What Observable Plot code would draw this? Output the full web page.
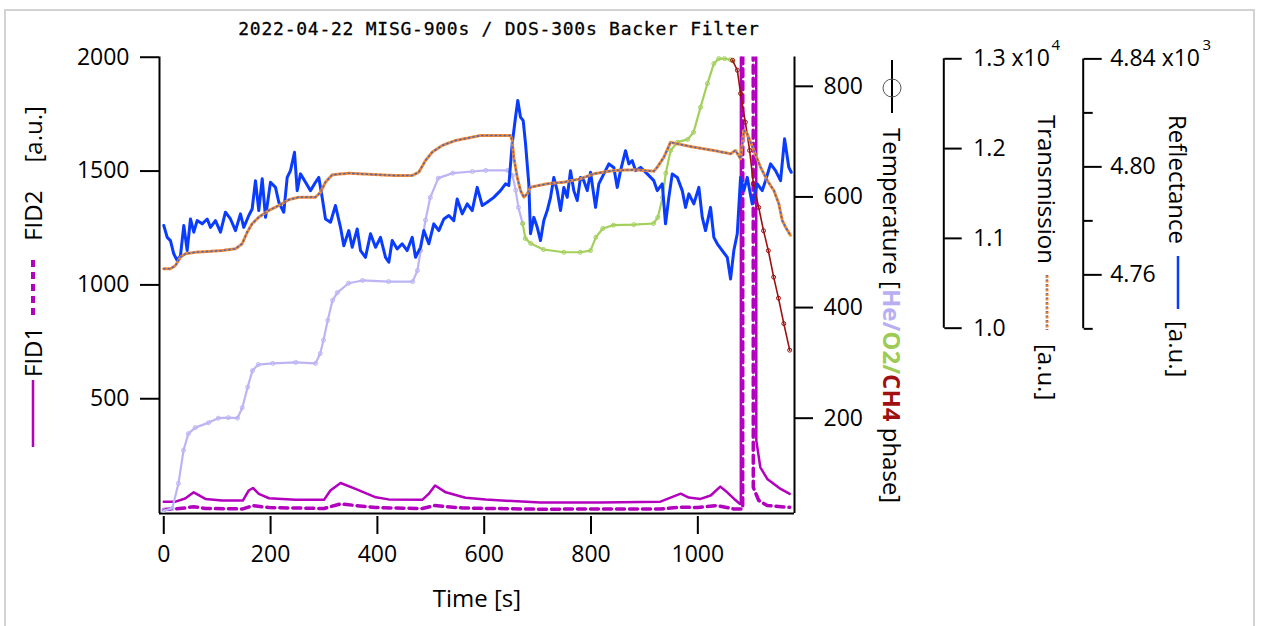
<!DOCTYPE html>
<html>
<head>
<meta charset="utf-8">
<script src="https://cdn.jsdelivr.net/npm/d3@7"></script>
<script src="https://cdn.jsdelivr.net/npm/@observablehq/plot@0.6"></script>
<style>
  html, body { margin:0; padding:0; background:#fff; }
  #chart { position:relative; width:1263px; height:626px; overflow:hidden; font-family:"Open Sans", sans-serif; color:#000; }
  #border { position:absolute; left:4px; top:9px; width:1251px; height:660px; border:2px solid #d3d3d3; box-sizing:border-box; }
  .layer { position:absolute; left:0; top:0; }
  .title { position:absolute; top:18px; left:0; width:998px; text-align:center; font-family:"DejaVu Sans Mono", monospace; font-size:18px; line-height:22px; letter-spacing:0.75px; color:#000; -webkit-text-stroke:0.3px #000; }
  .xlabel { position:absolute; top:583px; left:377px; width:200px; text-align:center; font-size:24px; line-height:30px; }
  .vlab { position:absolute; white-space:nowrap; font-size:24px; line-height:30px; height:30px; transform-origin:0 0; display:flex; align-items:center; }
  .vlab svg { display:block; flex:none; }
</style>
</head>
<body>
<div id="chart">
  <div id="border"></div>
  <div class="title">2022-04-22 MISG-900s / DOS-300s Backer Filter</div>
  <div class="xlabel">Time [s]</div>
  <div class="vlab" style="left:33px;top:447px;transform:rotate(-90deg) translateY(-50%);">
    <svg width="67" height="10"><line x1="0" y1="5" x2="67" y2="5" stroke="#b300bf" stroke-width="2.5"/></svg>
    <span style="margin-left:3px">FID1</span>
    <svg style="margin-left:12px" width="55" height="10"><line x1="0" y1="5" x2="55" y2="5" stroke="#b300bf" stroke-width="4" stroke-dasharray="7,5"/></svg>
    <span style="margin-left:19px">FID2</span>
    <span style="margin-left:28px">[a.u.]</span>
  </div>
  <div class="vlab" style="left:892px;top:60px;transform:rotate(90deg) translateY(-50%);">
    <svg width="53" height="22"><line x1="0" y1="11" x2="53" y2="11" stroke="#000" stroke-width="2"/><circle cx="28" cy="11" r="9" fill="none" stroke="#555" stroke-width="1"/></svg>
    <span style="margin-left:15px">Temperature [<b style="color:#b7aff2">He/</b><b style="color:#9dcb55">O2/</b><b style="color:#a01010">CH4</b> phase]</span>
  </div>
  <div class="vlab" style="left:1047px;top:115px;transform:rotate(90deg) translateY(-50%);">
    <span>Transmission</span>
    <svg style="margin-left:11px" width="55" height="10"><line x1="0" y1="5" x2="55" y2="5" stroke="#f08a36" stroke-width="3" stroke-dasharray="3,1.5"/><line x1="0" y1="5" x2="55" y2="5" stroke="#5468b0" stroke-width="1.6" stroke-dasharray="1.2,3.3"/></svg>
    <span style="margin-left:14px">[a.u.]</span>
  </div>
  <div class="vlab" style="left:1178px;top:115px;transform:rotate(90deg) translateY(-50%);">
    <span>Reflectance</span>
    <svg style="margin-left:12px" width="53" height="10"><line x1="0" y1="5" x2="53" y2="5" stroke="#0a3cff" stroke-width="2.5"/></svg>
    <span style="margin-left:12px">[a.u.]</span>
  </div>
</div>
<script>
const W = 1263, H = 626;

// ---- scale domains & ticks ----
const xDomain = [-8, 1181];
const fidDomain = [-4, 2001];
const tempDomain = [27.7, 853];
const transDomain = [7936, 13020];
const reflDomain = [4671.6, 4840.7];

const timeTicks = [0, 200, 400, 600, 800, 1000];
const fidTicks = [500, 1000, 1500, 2000];
const tempTicks = [200, 400, 600, 800];
const transTicks = [10000, 11000, 12000, 13000];
const transAxisSpan = [10000, 13000];
const reflMajor = [4760, 4800, 4840];
const reflMinor = [4740, 4780, 4820];
const reflAxisSpan = [4740, 4840];

// ---- data ----
const fid1Time = [0,22,40,56,78,109,148,159,167,178,197,247,300,312,331,359,397,421,484,496,508,528,565,603,705,818,930,968,983,1005,1024,1042,1055,1068,1079,1080.5,1081,1109,1109.5,1117,1130,1155,1172];
const fid1Val  = [48,48,62,89,60,53,53,97,108,82,63,56,56,97,130,104,67,58,56,82,119,89,65,57,44,44,48,83,66,60,75,114,89,60,38,38,6000,6000,316,199,148,104,82];

const fid2Time = [0,22,40,56,78,148,167,197,300,331,397,484,507,560,700,930,968,1000,1036,1067,1084,1084.6,1103.4,1103.8,1114,1130,1172];
const fid2Val  = [14,16,20,26,18,16,31,22,18,38,22,18,31,20,15,16,24,22,31,16,16,6000,6000,111,53,31,23];

const heTime = [0,16,27.5,37,46,59,84,102,121,138,147,157,166,177,204,247,284,293,299,307,316,325,346,372,421,466,475,481,490,499,514,541,578,603,644,653,659,664,672];
const heTemp = [33,37,82,142,172,183,192,200,201,200,219,256,286,297,299,301,299,317,341,377,413,427,444,449,447,447,467,503,558,599,634,643,646,648,648,639,612,581,552];

const o2Time = [672,677,687,711,749,780,799,809,822,842,880,917,925,934,940,949,962,981,992,1005,1018,1030,1039,1050,1061,1066];
const o2Temp = [552,525,516,505,500,500,503,527,543,549,550,552,563,599,643,684,699,704,717,762,805,841,850,850,848,846];

const ch4Time = [1065,1074,1080,1089,1097,1104,1114,1123,1132,1142,1151,1161,1172];
const ch4Temp = [847,829,787,735,684,624,581,539,503,455,417,371,323];

const transTime = [0,12.5,21.9,31.3,40.6,59.4,84.3,109.4,134.3,146.8,156.2,165.5,177.9,196.6,215.4,234.1,252.8,284.1,293.5,302.8,315.4,346.5,390.3,433.9,465.2,477.5,490.1,502.6,521.4,546.3,593.1,649.3,652.4,655.4,661.8,668,674.2,680.5,686.7,718,749.1,780.3,805.3,842.7,880.2,917.6,924,936.4,948.9,961.5,992.5,1030,1061.3,1070.6,1080,1086.2,1092.5,1104.9,1117.4,1130,1142.4,1151.7,1158.1,1164.3,1173.6];
const transVal  = [10661,10661,10698,10791,10828,10846,10854,10865,10884,10940,11069,11163,11236,11311,11366,11430,11459,11459,11514,11626,11708,11726,11712,11700,11700,11737,11867,11960,12035,12090,12146,12146,12090,11904,11682,11533,11459,11497,11570,11608,11626,11664,11719,11756,11764,11748,11793,11904,12071,12053,12016,11979,11942,11979,11886,12202,12165,11979,11793,11645,11533,11385,11199,11125,11032];

const reflTime = [0,6.4,12.5,18.7,25.1,31.3,37.5,43.8,50,56.2,62.5,71.9,81.3,87.5,96.8,106.2,115.5,124.9,134.3,143.6,149.8,159.2,165.5,171.7,177.9,184.3,190.5,199.8,209.2,215.4,224.7,231.1,237.3,244.8,249.8,256,265.4,274.7,284.1,290.3,296.6,302.8,312.2,321.5,330.9,337.1,346.5,352.8,362.2,368.4,377.7,387.1,396.5,405.8,415.2,421.4,427.7,437.1,446.4,455.8,465.2,471.4,480.7,486.9,496.3,505.6,515,524.4,533.7,543.1,549.4,558.8,568.2,577.5,586.9,596.3,605.6,618,630.5,639.9,646.1,652.4,658.6,662.9,668,673,677.4,683.5,686.7,692.9,699.3,705.4,711.6,718,724.2,730.3,736.7,742.9,749.1,755.4,761.6,767.8,774.2,780.3,786.5,792.9,799.1,808.5,814.6,824,833.4,842.7,849.1,855.3,864.6,870.8,877.2,883.4,892.7,905.3,917.6,924,933.4,939.5,945.7,952.1,961.5,970.8,977,983.2,992.5,1001.9,1008.3,1014.4,1023.8,1030,1036.4,1045.7,1055.1,1061.3,1067.4,1073.8,1080,1086.2,1092.5,1101.9,1111.2,1120.6,1126.8,1136.2,1145.5,1154.9,1162.4,1170.4,1174.9];
const reflVal  = [4778.3,4773.9,4772.7,4767.8,4765.3,4767.1,4778.3,4769,4780.7,4775.8,4780.1,4778.9,4780.7,4777.6,4780.1,4775.8,4783.2,4780.7,4776.4,4782.6,4777.6,4782,4784.4,4794.9,4783.8,4795.6,4781.3,4794.3,4792.4,4786.9,4783.2,4796.1,4798.6,4805.4,4791.2,4797.4,4794.3,4791.2,4794.3,4796.1,4788.7,4780.7,4779.5,4785.7,4777.6,4770.8,4776.4,4770.2,4777,4769,4766.5,4775.2,4770.2,4773.9,4766.5,4764.7,4772.7,4769.6,4771.5,4769,4773.9,4766.5,4770.2,4776.4,4771.5,4778.9,4776.4,4780.7,4782,4780.1,4788.1,4782.6,4786.3,4783.8,4792.4,4785.7,4786.9,4788.7,4791.2,4793.7,4793.1,4808.5,4818.4,4824.6,4818.4,4817.1,4808.5,4793.7,4775.2,4781.3,4777.6,4772.7,4780.1,4783.8,4788.7,4796.1,4791.2,4783.8,4792.4,4788.7,4798.6,4791.2,4787.5,4796.1,4794.9,4791.2,4798,4785,4793.7,4797.4,4801.1,4799.8,4792.4,4798.6,4806,4801.1,4802.3,4798.6,4799.8,4797.4,4794.9,4791.2,4793.7,4778.9,4788.7,4797.4,4796.1,4791.2,4785,4790,4786.3,4792.4,4781.3,4776.4,4785,4773.9,4771.5,4769,4766.5,4758.5,4769,4775.2,4796.1,4791.2,4796.1,4786.3,4793.7,4791.2,4794.9,4801.1,4798.6,4794.9,4810.4,4799.8,4798];

// ---- colours ----
const cFID = "#b300bf", cHe = "#bcb4f4", cO2 = "#a2d05a", cCH4 = "#9c1010";
const cRefl = "#0a3cff", cTransA = "#f08a36", cTransB = "#5468b0";

const rows = (ts, vs) => ts.map((t, i) => ({t, v: vs[i]}));
const fid1 = rows(fid1Time, fid1Val), fid2 = rows(fid2Time, fid2Val);
const he = rows(heTime, heTemp), o2 = rows(o2Time, o2Temp), ch4 = rows(ch4Time, ch4Temp);
const trans = rows(transTime, transVal), refl = rows(reflTime, reflVal);

const TF = 23; // tick label font size
const base = {
  width: W, height: H,
  marginTop: 56.5, marginBottom: H - 513, marginLeft: 159, marginRight: W - 794,
  style: {background: "transparent", fontFamily: "Open Sans", fontSize: TF + "px", color: "#000", overflow: "visible"}
};
const chart = document.getElementById("chart");
function layer(opts) {
  const svg = Plot.plot({...base, ...opts});
  svg.classList.add("layer");
  chart.appendChild(svg);
}
const plain = d => String(d);

// FID layer with frame and x axis
layer({
  x: {domain: xDomain},
  y: {domain: fidDomain},
  marks: [
    Plot.line(fid2, {x: "t", y: "v", stroke: cFID, strokeWidth: 3.5, strokeDasharray: "8,5", clip: true}),
    Plot.line(fid1, {x: "t", y: "v", stroke: cFID, strokeWidth: 2.5, clip: true}),
    Plot.ruleX([xDomain[0]], {stroke: "#000", strokeWidth: 2}),
    Plot.ruleY([fidDomain[0]], {stroke: "#000", strokeWidth: 2}),
    Plot.axisX(timeTicks, {tickSize: 18, tickPadding: 11, strokeWidth: 2, dy: 3, label: null, fontSize: TF, tickFormat: plain}),
    Plot.axisY(fidTicks, {anchor: "left", tickSize: 19, tickPadding: 11, strokeWidth: 2, label: null, fontSize: TF, tickFormat: plain})
  ]
});

// Temperature layer
layer({
  x: {domain: xDomain, axis: null},
  y: {domain: tempDomain},
  marks: [
    Plot.line(he, {x: "t", y: "v", stroke: cHe, strokeWidth: 2.2}),
    Plot.dot(he, {x: "t", y: "v", stroke: cHe, r: 2, strokeWidth: 1}),
    Plot.line(o2, {x: "t", y: "v", stroke: cO2, strokeWidth: 2.2}),
    Plot.dot(o2, {x: "t", y: "v", stroke: cO2, r: 2, strokeWidth: 1}),
    Plot.line(ch4, {x: "t", y: "v", stroke: cCH4, strokeWidth: 1.6}),
    Plot.dot(ch4, {x: "t", y: "v", stroke: cCH4, r: 2, strokeWidth: 1}),
    Plot.ruleX([xDomain[1]], {stroke: "#000", strokeWidth: 2}),
    Plot.axisY(tempTicks, {anchor: "right", tickSize: 18, tickPadding: 11, strokeWidth: 2, label: null, fontSize: TF, tickFormat: plain})
  ]
});

// Reflectance layer
const reflDx = 288.7;
layer({
  x: {domain: xDomain, axis: null},
  y: {domain: reflDomain},
  marks: [
    Plot.line(refl, {x: "t", y: "v", stroke: cRefl, strokeWidth: 3}),
    Plot.ruleX([{x: xDomain[1], y1: reflAxisSpan[0], y2: reflAxisSpan[1]}], {x: "x", y1: "y1", y2: "y2", dx: reflDx, stroke: "#000", strokeWidth: 2}),
    Plot.axisY(reflMajor, {anchor: "right", dx: reflDx, tickSize: 18, tickPadding: 9, strokeWidth: 2, label: null, fontSize: TF,
      tickFormat: d => d === 4840 ? "4.84 x10" : (d / 1000).toFixed(2)}),
    Plot.axisY(reflMinor, {anchor: "right", dx: reflDx, tickSize: 9, strokeWidth: 2, label: null, tickFormat: () => ""}),
    Plot.text([{v: 4840, s: "3"}], {y: "v", text: "s", frameAnchor: "right", dx: 408, dy: -14, fontSize: 15, textAnchor: "start"})
  ]
});

// Transmission layer
const transDx = 149.3;
layer({
  x: {domain: xDomain, axis: null},
  y: {domain: transDomain},
  marks: [
    Plot.line(trans, {x: "t", y: "v", stroke: cTransA, strokeWidth: 3, strokeDasharray: "3,1.5"}),
    Plot.line(trans, {x: "t", y: "v", stroke: cTransB, strokeWidth: 1.6, strokeDasharray: "1.2,3.3"}),
    Plot.ruleX([{x: xDomain[1], y1: transAxisSpan[0], y2: transAxisSpan[1]}], {x: "x", y1: "y1", y2: "y2", dx: transDx, stroke: "#000", strokeWidth: 2}),
    Plot.axisY(transTicks, {anchor: "right", dx: transDx, tickSize: 17.4, tickPadding: 12, strokeWidth: 2, label: null, fontSize: TF,
      tickFormat: d => d === 13000 ? "1.3 x10" : (d / 10000).toFixed(1)}),
    Plot.text([{v: 13000, s: "4"}], {y: "v", text: "s", frameAnchor: "right", dx: 257, dy: -14, fontSize: 15, textAnchor: "start"})
  ]
});
</script>
</body>
</html>
